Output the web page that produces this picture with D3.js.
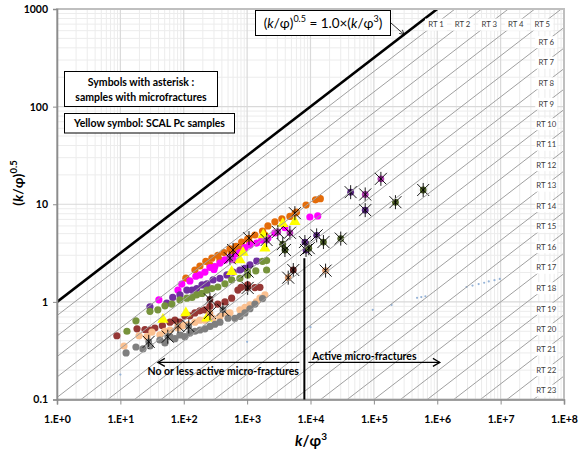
<!DOCTYPE html>
<html>
<head>
<meta charset="utf-8">
<script src="https://cdn.jsdelivr.net/npm/d3@7"></script>
<style>
  body { margin: 0; background: #fff; }
  svg { display: block; font-family: Lato, "Open Sans", sans-serif; }
</style>
</head>
<body>
<div id="chart"></div>
<script>
// axis ticks
const xTicks = [1, 10, 100, 1e3, 1e4, 1e5, 1e6, 1e7, 1e8];
const xTickLabels = ["1.E+0", "1.E+1", "1.E+2", "1.E+3", "1.E+4", "1.E+5", "1.E+6", "1.E+7", "1.E+8"];
const yTicks = [0.1, 1, 10, 100, 1000];
const yTickLabels = ["0.1", "1", "10", "100", "1000"];

// rock type lines  (k/phi)^0.5 = c * (k/phi^3)^0.5
const rtNames = ["RT 1","RT 2","RT 3","RT 4","RT 5","RT 6","RT 7","RT 8","RT 9","RT 10","RT 11","RT 12",
                 "RT 13","RT 14","RT 15","RT 16","RT 17","RT 18","RT 19","RT 20","RT 21","RT 22","RT 23"];
const rtConstants = [0.724, 0.447, 0.275, 0.170, 0.105, 0.0646, 0.0398, 0.0245, 0.0151, 0.00933, 0.00575,
                     0.00355, 0.00219, 0.00135, 0.000832, 0.000513, 0.000316, 0.000195, 0.000120,
                     0.0000741, 0.0000457, 0.0000282, 0.0000174];
const limitConstant = 1.0;

// sample groups  [k/phi^3, (k/phi)^0.5]
const orangePts = [[108,1.75],[150,2.12],[180,2.33],[223,2.6],[278,2.8],[345,3.0],[430,3.2],[535,3.5],
  [670,3.7],[820,4.1],[1020,4.4],[1327,4.84],[1750,5.3],[2130,6.0],[2744,6.6],[3530,7.1],[4730,7.5],
  [6000,8.3],[8500,9.8],[12000,11.1],[14300,11.4],[259,2.39],[372,2.69],[570,3.1],[1107,4.0],[1909,4.84],[780,3.5]];
const magentaPts = [[40.5,1.05],[81,1.32],[93,1.52],[125,1.64],[155,1.83],[180,1.89],[216,2.02],[259,2.25],
  [310,2.3],[372,2.5],[447,2.69],[535,2.85],[670,3.1],[770,3.2],[923,3.6],[1107,3.83],[1420,4.0],
  [1700,4.3],[2130,4.5],[2744,5.1],[3945,5.75],[9780,7.4],[13000,7.6],[600,2.7],[300,2.15]];
const purplePts = [[29.3,0.89],[54,0.97],[67,1.11],[87,1.18],[112,1.32],[135,1.32],[160,1.37],[194,1.49],
  [232,1.53],[290,1.68],[372,1.74],[480,1.89],[600,2.02],[770,2.12],[923,2.2],[1107,2.39],[1420,2.62]];
const greenPts = [[12.7,0.50],[17.6,0.64],[29.3,0.80],[39,0.83],[50.5,0.91],[65,0.95],[87,1.05],[112,1.09],
  [135,1.11],[160,1.18],[194,1.22],[232,1.32],[278,1.37],[345,1.42],[447,1.53],[570,1.68],[770,1.74],
  [1020,1.89],[1370,2.08],[1750,2.6],[2030,2.65],[2030,2.12]];
const brownPts = [[8.8,0.45],[18.3,0.53],[24.4,0.52],[29,0.515],[35,0.54],[46,0.57],[60.6,0.62],[72.6,0.65],
  [87,0.62],[104,0.72],[125,0.72],[150,0.77],[180,0.81],[216,0.83],[259,0.90],[345,0.95],[447,1.0],
  [570,1.09],[715,1.32],[800,1.41],[1020,1.49],[1327,1.40],[1592,1.41]];
const peachPts = [[11.4,0.353],[19.7,0.45],[26.3,0.44],[31.5,0.49],[42,0.46],[50,0.50],[60.6,0.515],[81,0.54],
  [97,0.57],[116,0.58],[150,0.62],[180,0.65],[216,0.65],[290,0.68],[372,0.71],[447,0.77],[535,0.77],
  [770,0.83],[923,0.88],[1107,0.93],[1400,1.0],[1592,1.09],[1909,1.18]];
const grayPts = [[12.3,0.30],[17.6,0.345],[22.7,0.33],[29.3,0.353],[42,0.407],[50.5,0.38],[60.6,0.44],
  [72.6,0.42],[87,0.458],[104,0.44],[125,0.48],[150,0.50],[180,0.515],[216,0.53],[259,0.56],[310,0.59],
  [372,0.62],[500,0.68],[642,0.68],[770,0.71],[923,0.77],[1107,0.85],[1327,0.95],[1750,1.08]];
const yellowPts = [[47,0.66],[108,0.77],[232,0.68],[570,2.04],[770,2.69],[860,3.2],[1800,4.84],[1909,3.55],
  [3650,6.3],[5670,6.6]];
// samples with microfractures [k/phi^3, (k/phi)^0.5, group]
const asteriskPts = [[28,0.39,"gray"],[56,0.44,"gray"],[81,0.57,"peach"],[120,0.56,"gray"],[259,1.06,"brown"],
  [259,0.77,"peach"],[415,0.83,"gray"],[535,2.8,"magenta"],[600,3.4,"orange"],[1070,4.5,"orange"],
  [1020,2.04,"green"],[1020,1.39,"brown"],[2030,4.3,"magenta"],[3050,5.2,"magenta"],[4730,5.1,"magenta"],
  [5670,8.1,"orange"],[3950,3.4,"olive"],[3650,3.9,"olive"],[8500,3.4,"purple"],[8160,4.1,"purple"],
  [9400,3.55,"olive"],[12500,4.8,"purple"],[16000,4.1,"olive"],[5350,2.12,"brown"],[4450,1.77,"peach"],
  [17300,2.09,"peach"],[30000,4.45,"olive"],[43000,13.3,"purple"],[73000,12.6,"magenta"],[73000,8.7,"purple"],
  [129000,18.2,"magenta"],[219000,10.5,"olive"],[600000,14.0,"olive"]];
// faint blue dotted series
const bluePts = [[1,0.125],[10,0.18],[1000,0.39],[10000,0.55],[96000,0.83],[190000,0.93],[480000,1.1],
  [560000,1.12],[650000,1.14],[2.9e6,1.42],[3.6e6,1.47],[4.5e6,1.52],[5.5e6,1.57],[6.5e6,1.62],[8e6,1.67],[9.7e6,1.72]];

// annotations
const cutoffX = 8000;
const cutoffTop = 2.8;
const arrowY = 0.24;
const arrowLeftEnd = 39;
const arrowRightEnd = 1.1e6;

const W = 588, H = 457;
const m = { l: 57, r: 24, t: 9, b: 57.5 };

const svg = d3.select('#chart').append('svg').attr('width', W).attr('height', H);

const x = d3.scaleLog().domain([1, 1e8]).range([m.l, W - m.r]);
const y = d3.scaleLog().domain([0.1, 1000]).range([H - m.b, m.t]);

svg.append('defs').append('clipPath').attr('id', 'plotclip')
   .append('rect').attr('x', m.l).attr('y', m.t)
   .attr('width', W - m.r - m.l).attr('height', H - m.b - m.t);

// grid
const grid = svg.append('g').attr('class', 'grid');
const minorX = [], minorY = [];
for (let d = 0; d < 8; d++) for (let k = 2; k <= 9; k++) minorX.push(k * Math.pow(10, d));
for (let d = -1; d < 3; d++) for (let k = 2; k <= 9; k++) minorY.push(k * Math.pow(10, d));
grid.selectAll('.mx').data(minorX).enter().append('line')
    .attr('x1', d => x(d)).attr('x2', d => x(d)).attr('y1', m.t).attr('y2', H - m.b)
    .attr('stroke', '#ececec').attr('stroke-width', 1);
grid.selectAll('.my').data(minorY).enter().append('line')
    .attr('y1', d => y(d)).attr('y2', d => y(d)).attr('x1', m.l).attr('x2', W - m.r)
    .attr('stroke', '#ececec').attr('stroke-width', 1);
grid.selectAll('.gx').data(xTicks).enter().append('line')
    .attr('x1', d => x(d)).attr('x2', d => x(d)).attr('y1', m.t).attr('y2', H - m.b)
    .attr('stroke', '#d9d9d9').attr('stroke-width', 1.2);
grid.selectAll('.gy').data(yTicks).enter().append('line')
    .attr('y1', d => y(d)).attr('y2', d => y(d)).attr('x1', m.l).attr('x2', W - m.r)
    .attr('stroke', '#d9d9d9').attr('stroke-width', 1.2);

const plot = svg.append('g').attr('clip-path', 'url(#plotclip)');

// faint blue dots
plot.append('g').selectAll('circle').data(bluePts).enter().append('circle')
    .attr('cx', d => x(d[0])).attr('cy', d => y(d[1])).attr('r', 1.1)
    .attr('fill', '#95b3d7');

// scatter groups
const groups = [
  { pts: orangePts, color: '#e46c0a' },
  { pts: magentaPts, color: '#ff00ff' },
  { pts: purplePts, color: '#7030a0' },
  { pts: greenPts, color: '#77933c' },
  { pts: brownPts, color: '#953735' },
  { pts: peachPts, color: '#fac090' },
  { pts: grayPts, color: '#7f7f7f' }
];
groups.forEach(g => {
  plot.append('g').selectAll('circle').data(g.pts).enter().append('circle')
      .attr('cx', d => x(d[0])).attr('cy', d => y(d[1])).attr('r', 3.6)
      .attr('fill', g.color);
});

const tri = d3.symbol().type(d3.symbolTriangle).size(55);
plot.append('g').selectAll('path').data(yellowPts).enter().append('path')
    .attr('d', tri)
    .attr('transform', d => `translate(${x(d[0])},${y(d[1])})`)
    .attr('fill', '#ffff00');

// asterisk samples
const astColor = { gray: '#7f7f7f', peach: '#d9976a', brown: '#632523', magenta: '#b23cb2',
                   orange: '#e46c0a', green: '#77933c', olive: '#4f6228', purple: '#5c2a84' };
const ast = plot.append('g').selectAll('g').data(asteriskPts).enter().append('g')
    .attr('transform', d => `translate(${x(d[0])},${y(d[1])})`);
ast.append('circle').attr('r', 3.4).attr('fill', d => astColor[d[2]]);
ast.append('path').attr('d', 'M-6,-6L6,6M-6,6L6,-6M0,-7L0,7')
   .attr('stroke', '#000').attr('stroke-width', 0.9).attr('fill', 'none');

// RT lines
plot.append('g').selectAll('line').data(rtConstants).enter().append('line')
    .attr('x1', x(1)).attr('y1', c => y(c))
    .attr('x2', x(1e8)).attr('y2', c => y(c * 1e4))
    .attr('stroke', '#a0a0a0').attr('stroke-width', 1);

// limit line
plot.append('line')
    .attr('x1', x(1)).attr('y1', y(limitConstant))
    .attr('x2', x(1e6)).attr('y2', y(limitConstant * 1e3))
    .attr('stroke', '#000').attr('stroke-width', 2.6);

// RT labels
const rtLab = svg.append('g').selectAll('g').data(rtConstants).enter().append('g')
    .attr('transform', (c, i) => {
      const lc = Math.log10(c);
      const lx = Math.min(7.72, 2 * (2.85 - lc));
      const xv = Math.pow(10, lx);
      return `translate(${x(xv)},${y(c * Math.sqrt(xv)) + 1})`;
    });
rtLab.append('rect').attr('x', -11).attr('y', -6).attr('width', 22).attr('height', 12).attr('fill', '#fff');
rtLab.append('text').attr('text-anchor', 'middle').attr('dy', '0.35em')
     .attr('font-size', 7.8).attr('fill', '#3a3a3a')
     .text((c, i) => rtNames[i]);

// plot border
svg.append('rect').attr('x', m.l).attr('y', m.t)
   .attr('width', W - m.r - m.l).attr('height', H - m.b - m.t)
   .attr('fill', 'none').attr('stroke', '#bfbfbf').attr('stroke-width', 2);

// axes
const xAxis = svg.append('g').attr('transform', `translate(0,${H - m.b})`)
  .call(d3.axisBottom(x).tickValues(xTicks).tickSize(5).tickFormat((d, i) => xTickLabels[i]));
const yAxis = svg.append('g').attr('transform', `translate(${m.l},0)`)
  .call(d3.axisLeft(y).tickValues(yTicks).tickSize(4).tickFormat((d, i) => yTickLabels[i]));
[xAxis, yAxis].forEach(a => {
  a.select('.domain').attr('stroke', '#8c8c8c').attr('stroke-width', 1.6);
  a.selectAll('.tick line').attr('stroke', '#8c8c8c');
  a.selectAll('.tick text').attr('font-family', 'Lato, sans-serif').attr('font-weight', 'bold')
   .attr('font-size', 10.5).attr('fill', '#000');
});
xAxis.selectAll('.tick text').attr('y', 16);
yAxis.selectAll('.tick text').attr('x', -9);

// axis titles
const xt = svg.append('text').attr('x', 311).attr('y', 446).attr('text-anchor', 'middle')
   .attr('font-weight', 'bold').attr('font-size', 15);
xt.append('tspan').attr('font-style', 'italic').text('k');
xt.append('tspan').text('/φ');
xt.append('tspan').attr('font-size', 10).attr('dy', -6).text('3');

const yt = svg.append('text').attr('transform', 'translate(23,183) rotate(-90)')
   .attr('text-anchor', 'middle').attr('font-weight', 'bold').attr('font-size', 14);
yt.append('tspan').text('(');
yt.append('tspan').attr('font-style', 'italic').text('k');
yt.append('tspan').text('/φ)');
yt.append('tspan').attr('font-size', 9.5).attr('dy', -6).text('0.5');

// formula box
svg.append('rect').attr('x', 255.5).attr('y', 10.5).attr('width', 135).attr('height', 25)
   .attr('fill', '#fff').attr('stroke', '#000').attr('stroke-width', 1);
const ft = svg.append('text').attr('x', 323).attr('y', 28).attr('text-anchor', 'middle').attr('font-size', 13.5);
ft.append('tspan').text('(');
ft.append('tspan').attr('font-style', 'italic').text('k');
ft.append('tspan').text('/φ)');
ft.append('tspan').attr('font-size', 9).attr('dy', -6).text('0.5');
ft.append('tspan').attr('dy', 6).text(' = 1.0×(');
ft.append('tspan').attr('font-style', 'italic').text('k');
ft.append('tspan').text('/φ');
ft.append('tspan').attr('font-size', 9).attr('dy', -6).text('3');
ft.append('tspan').attr('dy', 6).text(')');

// leader from formula box to the limit line
const lx2 = x(3.0e5), ly2 = y(Math.sqrt(3.0e5) * limitConstant);
svg.append('line').attr('x1', 391).attr('y1', 23).attr('x2', lx2).attr('y2', ly2)
   .attr('stroke', '#000').attr('stroke-width', 0.8);
const ang = Math.atan2(ly2 - 23, lx2 - 391);
const ah = 5;
svg.append('path')
   .attr('d', `M${lx2 - ah * Math.cos(ang - 0.5)},${ly2 - ah * Math.sin(ang - 0.5)}L${lx2},${ly2}L${lx2 - ah * Math.cos(ang + 0.5)},${ly2 - ah * Math.sin(ang + 0.5)}`)
   .attr('fill', 'none').attr('stroke', '#000').attr('stroke-width', 0.8);

// legend-ish boxes
svg.append('rect').attr('x', 64.5).attr('y', 71.5).attr('width', 153).attr('height', 35)
   .attr('fill', '#fff').attr('stroke', '#000');
svg.append('text').attr('x', 141).attr('y', 86).attr('text-anchor', 'middle')
   .attr('font-weight', 'bold').attr('font-size', 10.5).text('Symbols with asterisk :');
svg.append('text').attr('x', 141).attr('y', 101).attr('text-anchor', 'middle')
   .attr('font-weight', 'bold').attr('font-size', 10.5).text('samples with microfractures');
svg.append('rect').attr('x', 64.5).attr('y', 113.5).attr('width', 170).attr('height', 19.5)
   .attr('fill', '#fff').attr('stroke', '#000');
svg.append('text').attr('x', 149.5).attr('y', 127).attr('text-anchor', 'middle')
   .attr('font-weight', 'bold').attr('font-size', 10.5).text('Yellow symbol: SCAL Pc samples');

// micro-fracture annotations
svg.append('line').attr('x1', x(cutoffX)).attr('x2', x(cutoffX))
   .attr('y1', y(cutoffTop)).attr('y2', y(0.1))
   .attr('stroke', '#000').attr('stroke-width', 2);
const ay = y(arrowY);
svg.append('line').attr('x1', x(cutoffX) - 5).attr('x2', x(arrowLeftEnd)).attr('y1', ay).attr('y2', ay)
   .attr('stroke', '#000').attr('stroke-width', 1.2);
svg.append('path').attr('d', `M${x(arrowLeftEnd) + 7},${ay - 4}L${x(arrowLeftEnd)},${ay}L${x(arrowLeftEnd) + 7},${ay + 4}`)
   .attr('fill', 'none').attr('stroke', '#000').attr('stroke-width', 1.2);
svg.append('line').attr('x1', x(cutoffX) + 4).attr('x2', x(arrowRightEnd)).attr('y1', ay).attr('y2', ay)
   .attr('stroke', '#000').attr('stroke-width', 1.2);
svg.append('path').attr('d', `M${x(arrowRightEnd) - 7},${ay - 4}L${x(arrowRightEnd)},${ay}L${x(arrowRightEnd) - 7},${ay + 4}`)
   .attr('fill', 'none').attr('stroke', '#000').attr('stroke-width', 1.2);
svg.append('text').attr('x', 312).attr('y', 360).attr('font-weight', 'bold').attr('font-size', 10.5)
   .text('Active micro-fractures');
svg.append('text').attr('x', 299).attr('y', 375).attr('text-anchor', 'end')
   .attr('font-weight', 'bold').attr('font-size', 10.5)
   .text('No or less active micro-fractures');
</script>
</body>
</html>
